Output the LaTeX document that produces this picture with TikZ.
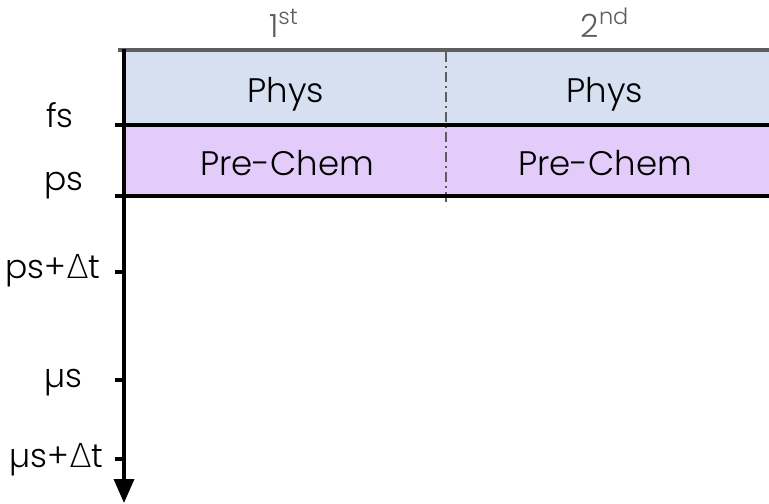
\documentclass[tikz,border=0pt]{standalone}
\usepackage{fontspec}
\setmainfont{Poppins}[UprightFont=* Light]
\newfontfamily\djv{DejaVu Sans ExtraLight}
\usetikzlibrary{arrows.meta}
\definecolor{physblue}{HTML}{D6E0F0}
\definecolor{chempurple}{HTML}{E3CCFA}
\definecolor{hdrgray}{HTML}{5E5E5E}
\newcommand{\Dlt}{{\djv\symbol{"0394}}}
\tikzset{
  hline/.style={line width=1.6pt, black},
  tick/.style={line width=1.6pt, black},
  lbl/.style={font=\fontsize{16.5}{19}\selectfont, inner sep=0pt},
  cell/.style={font=\fontsize{17}{20}\selectfont, inner sep=0pt},
  hdr/.style={font=\fontsize{16}{19}\selectfont, text=hdrgray, inner sep=0pt},
}
\begin{document}
\begin{tikzpicture}[x=0.5pt,y=-0.5pt]
\useasboundingbox (0,0) rectangle (769,503);
% bands
\fill[physblue] (124,51) rectangle (769,125);
\fill[chempurple] (124,125) rectangle (769,196);
% coordinates
\coordinate (topL) at (118,50);
\coordinate (topR) at (769,50);
\coordinate (fsL) at (115,125);
\coordinate (fsR) at (769,125);
\coordinate (psL) at (115,196);
\coordinate (psR) at (769,196);
\coordinate (axTop) at (124,49);
\coordinate (axBot) at (124,503);
\coordinate (sepTop) at (446,52);
\coordinate (sepBot) at (446,206);
\coordinate (t3L) at (115,272);
\coordinate (t3R) at (124,272);
\coordinate (t4L) at (115,380);
\coordinate (t4R) at (124,380);
\coordinate (t5L) at (115,459);
\coordinate (t5R) at (124,459);
% separator
\draw[hdrgray, line width=0.7pt, dash pattern=on 5pt off 2pt on 1pt off 2pt] (sepTop) -- (sepBot);
% lines
\draw[line width=1.6pt, hdrgray] (topL) -- (topR);
\draw[hline] (fsL) -- (fsR);
\draw[hline] (psL) -- (psR);
% axis
\draw[line width=1.7pt, -{Triangle[length=12pt,width=10pt]}] (axTop) -- (axBot);
\draw[tick] (t3L) -- (t3R);
\draw[tick] (t4L) -- (t4R);
\draw[tick] (t5L) -- (t5R);
% labels
\node[lbl, anchor=base] (lfs) at (60,127) {fs};
\node[lbl, anchor=base] (lps) at (64,190) {ps};
\node[lbl, anchor=base east] (lpsdt) at (101,278) {ps+\Dlt t};
\node[lbl, anchor=base] (lmus) at (63,387) {µs};
\node[lbl, anchor=base east] (lmusdt) at (104,467) {µs+\Dlt t};
% headers
\node[hdr, anchor=base] (h1) at (284,37) {1\textsuperscript{st}};
\node[hdr, anchor=base] (h2) at (605,37) {2\textsuperscript{nd}};
% cells
\node[cell, anchor=base] (p1) at (286,102) {Phys};
\node[cell, anchor=base] (p2) at (605,102) {Phys};
\node[cell, anchor=base] (c1) at (287,175) {Pre-Chem};
\node[cell, anchor=base] (c2) at (605,175) {Pre-Chem};
\end{tikzpicture}
\end{document}
